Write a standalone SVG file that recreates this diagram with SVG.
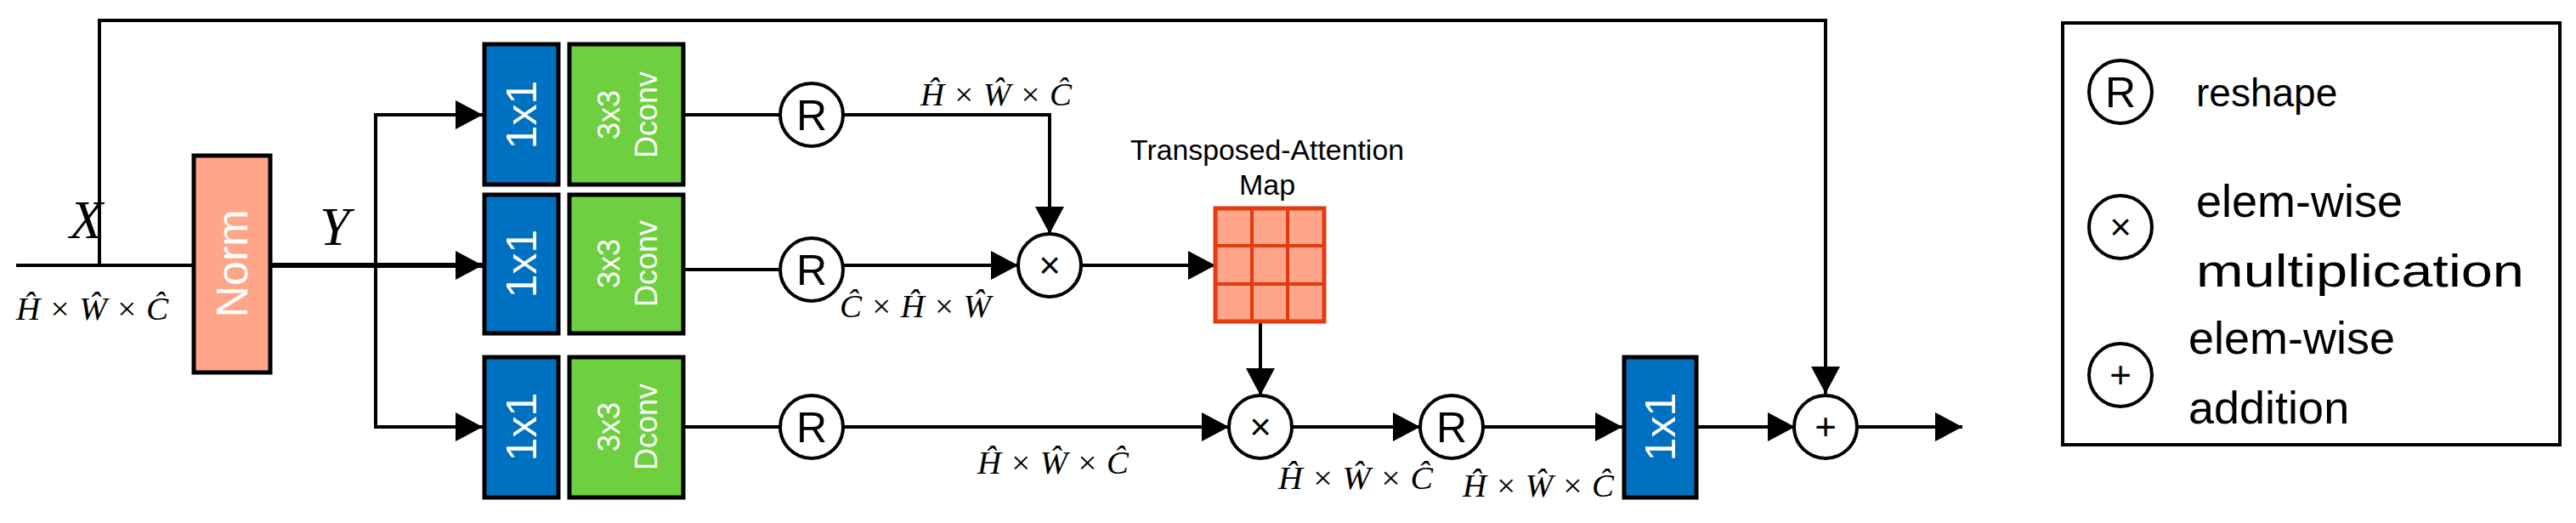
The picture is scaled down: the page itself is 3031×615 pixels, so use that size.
<svg xmlns="http://www.w3.org/2000/svg" width="3031" height="615" viewBox="0 0 3031 615">
<style>
.ln{fill:none;stroke:#000;stroke-width:4}
.blue{fill:#0070C0;stroke:#000;stroke-width:5}
.green{fill:#6ED040;stroke:#000;stroke-width:5}
.circ{fill:#fff;stroke:#000;stroke-width:4}
.wt{fill:#fff;font-family:"Liberation Sans",Arial,sans-serif;text-anchor:middle}
.sym{font-family:"Liberation Sans",Arial,sans-serif;text-anchor:middle;fill:#000}
.math{font-family:"Liberation Serif","DejaVu Serif",serif;font-style:italic;font-size:38px;fill:#000}
.lg{font-family:"Liberation Sans",Arial,sans-serif;fill:#000}
</style>
<defs>
<marker id="ah" markerUnits="userSpaceOnUse" markerWidth="34" markerHeight="34" refX="32" refY="17" orient="auto">
<path d="M0,0 L32,17 L0,34 Z" fill="#000"/>
</marker>
</defs>
<rect width="3031" height="615" fill="#fff"/>
<g id="connectors">
<path class="ln" d="M19,312 H228"/>
<path class="ln" d="M117,312 V24 H2148 V463" marker-end="url(#ah)"/>
<path class="ln" d="M318,312 H568" marker-end="url(#ah)" style="stroke-width:6"/>
<path class="ln" d="M442,312 V135 H568" marker-end="url(#ah)"/>
<path class="ln" d="M442,312 V502 H568" marker-end="url(#ah)"/>
<path class="ln" d="M804,135 H918"/>
<path class="ln" d="M804,317 H918"/>
<path class="ln" d="M804,502 H918"/>
<path class="ln" d="M992,135 H1235 V275" marker-end="url(#ah)"/>
<path class="ln" d="M992,312 H1198" marker-end="url(#ah)"/>
<path class="ln" d="M1272,312 H1430" marker-end="url(#ah)"/>
<path class="ln" d="M1483,378 V465" marker-end="url(#ah)"/>
<path class="ln" d="M992,502 H1446" marker-end="url(#ah)"/>
<path class="ln" d="M1520,502 H1671" marker-end="url(#ah)"/>
<path class="ln" d="M1745,502 H1909" marker-end="url(#ah)"/>
<path class="ln" d="M1996,502 H2112" marker-end="url(#ah)"/>
<path class="ln" d="M2184,502 H2309" marker-end="url(#ah)"/>
</g>
<g id="labels">
<text x="82" y="280" font-family="'Liberation Serif',serif" font-style="italic" font-size="64">X</text>
<text x="376" y="288" font-family="'Liberation Serif',serif" font-style="italic" font-size="64">Y</text>
<text class="math" x="19" y="376" textLength="179" lengthAdjust="spacingAndGlyphs">Ĥ × Ŵ × Ĉ</text>
<text class="math" x="1083" y="124" textLength="178" lengthAdjust="spacingAndGlyphs">Ĥ × Ŵ × Ĉ</text>
<text class="math" x="988" y="373" textLength="178" lengthAdjust="spacingAndGlyphs">Ĉ × Ĥ × Ŵ</text>
<text class="math" x="1150" y="557" textLength="178" lengthAdjust="spacingAndGlyphs">Ĥ × Ŵ × Ĉ</text>
<text class="math" x="1504" y="575" textLength="182" lengthAdjust="spacingAndGlyphs">Ĥ × Ŵ × Ĉ</text>
<text class="math" x="1721" y="584" textLength="178" lengthAdjust="spacingAndGlyphs">Ĥ × Ŵ × Ĉ</text>
<text class="lg" x="1491" y="188" font-size="34" text-anchor="middle" textLength="322" lengthAdjust="spacingAndGlyphs">Transposed-Attention</text>
<text class="lg" x="1491" y="229" font-size="34" text-anchor="middle">Map</text>
</g>
<g id="norm">
<rect x="228" y="183" width="90" height="255" fill="#FFA68A" stroke="#000" stroke-width="5"/>
<text class="wt" font-size="52" transform="translate(273,310) rotate(-90)" y="18">Norm</text>
</g>
<g id="conv1x1_q"><rect class="blue" x="570" y="52" width="87" height="165"/><text class="wt" font-size="50" transform="translate(613,135) rotate(-90)" y="18">1x1</text></g>
<g id="conv1x1_k"><rect class="blue" x="570" y="229" width="87" height="163"/><text class="wt" font-size="50" transform="translate(613,310) rotate(-90)" y="18">1x1</text></g>
<g id="conv1x1_v"><rect class="blue" x="570" y="420" width="87" height="165"/><text class="wt" font-size="50" transform="translate(613,502) rotate(-90)" y="18">1x1</text></g>
<g id="dconv_q"><rect class="green" x="670" y="52" width="134" height="165"/><text class="wt" font-size="36" transform="translate(737,135) rotate(-90)"><tspan x="0" y="-8">3x3</tspan><tspan x="0" y="36">Dconv</tspan></text></g>
<g id="dconv_k"><rect class="green" x="670" y="229" width="134" height="163"/><text class="wt" font-size="36" transform="translate(737,310) rotate(-90)"><tspan x="0" y="-8">3x3</tspan><tspan x="0" y="36">Dconv</tspan></text></g>
<g id="dconv_v"><rect class="green" x="670" y="420" width="134" height="165"/><text class="wt" font-size="36" transform="translate(737,502) rotate(-90)"><tspan x="0" y="-8">3x3</tspan><tspan x="0" y="36">Dconv</tspan></text></g>
<g id="r1"><circle class="circ" cx="955" cy="135" r="37"/><text class="sym" x="955" y="153" font-size="50">R</text></g>
<g id="r2"><circle class="circ" cx="955" cy="317" r="37"/><text class="sym" x="955" y="335" font-size="50">R</text></g>
<g id="r3"><circle class="circ" cx="955" cy="502" r="37"/><text class="sym" x="955" y="520" font-size="50">R</text></g>
<g id="mul1"><circle class="circ" cx="1235" cy="312" r="37"/><text class="sym" x="1235" y="327" font-size="44">×</text></g>
<g id="attn_map">
<rect x="1430" y="245" width="128" height="133" fill="#FFA58A" stroke="#E03C10" stroke-width="5"/>
<path d="M1473,245 V378 M1515,245 V378 M1430,289 H1558 M1430,334 H1558" stroke="#E03C10" stroke-width="4" fill="none"/>
</g>
<g id="mul2"><circle class="circ" cx="1483" cy="502" r="37"/><text class="sym" x="1483" y="517" font-size="44">×</text></g>
<g id="r4"><circle class="circ" cx="1708" cy="502" r="37"/><text class="sym" x="1708" y="520" font-size="50">R</text></g>
<g id="conv1x1_out"><rect class="blue" x="1911" y="420" width="85" height="165"/><text class="wt" font-size="50" transform="translate(1953,502) rotate(-90)" y="18">1x1</text></g>
<g id="add"><circle class="circ" cx="2148" cy="502" r="37"/><text class="sym" x="2148" y="517" font-size="44">+</text></g>
<g id="legend">
<rect x="2427" y="27" width="585" height="496" fill="none" stroke="#000" stroke-width="4"/>
<circle class="circ" cx="2495" cy="108" r="37"/><text class="sym" x="2495" y="126" font-size="50">R</text>
<text class="lg" x="2584" y="125" font-size="46">reshape</text>
<circle class="circ" cx="2495" cy="267" r="37"/><text class="sym" x="2495" y="282" font-size="44">×</text>
<text class="lg" x="2584" y="255" font-size="54">elem-wise</text>
<text class="lg" x="2584" y="337" font-size="54" textLength="386" lengthAdjust="spacingAndGlyphs">multiplication</text>
<circle class="circ" cx="2495" cy="441" r="37"/><text class="sym" x="2495" y="456" font-size="44">+</text>
<text class="lg" x="2575" y="416" font-size="54">elem-wise</text>
<text class="lg" x="2575" y="498" font-size="54">addition</text>
</g>
</svg>
